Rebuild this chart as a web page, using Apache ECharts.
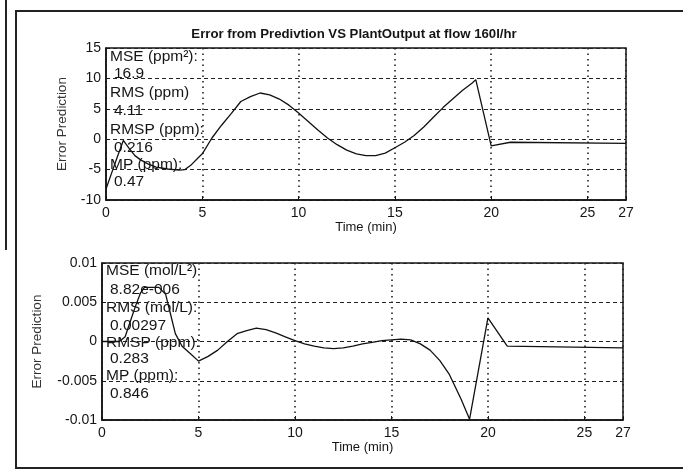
<!DOCTYPE html>
<html>
<head>
<meta charset="utf-8">
<script src="https://cdn.jsdelivr.net/npm/echarts@6/dist/echarts.min.js"></script>
<style>
html,body{margin:0;padding:0;background:#fff;}
#chart{width:683px;height:476px;}
</style>
</head>
<body>
<div id="chart"></div>
<script>
// ---- data ----
var titleText = 'Error from Predivtion VS PlantOutput at flow 160l/hr';
var xTicks = [0, 5, 10, 15, 20, 25, 27];
var topYTicks = [-10, -5, 0, 5, 10, 15];
var bottomYTicks = [-0.01, -0.005, 0, 0.005, 0.01];

var topTime = [0, 0.3, 0.6, 0.9, 1.2, 1.5, 1.8, 2.2, 2.6, 3.2, 3.8, 4.1, 4.4, 4.8, 5.0, 5.5, 6.0, 6.5, 7.0, 7.5, 8.0, 8.5, 9.0, 9.5, 10, 10.5, 11, 11.5, 12, 12.5, 13, 13.5, 14, 14.5, 15, 15.5, 16, 16.5, 17, 17.5, 18, 18.5, 19, 19.2, 20, 21, 27];
var topError = [-8.2, -5.5, -2.8, -0.2, -1.5, -2.7, -3.4, -4.1, -4.6, -4.9, -5.1, -5.0, -4.3, -3.0, -2.4, 0.2, 2.3, 4.2, 6.2, 7.0, 7.6, 7.3, 6.6, 5.6, 4.3, 2.9, 1.5, 0.2, -0.9, -1.8, -2.4, -2.7, -2.7, -2.3, -1.4, -0.5, 0.6, 2.0, 3.6, 5.2, 6.6, 8.0, 9.2, 9.8, -1.1, -0.5, -0.7];

var bottomTime = [0, 0.9, 1.2, 1.5, 1.75, 2.0, 2.2, 2.95, 3.3, 3.55, 3.8, 4.15, 4.6, 5.0, 5.5, 6.0, 6.5, 7.0, 7.5, 8.0, 8.5, 9.0, 9.5, 10, 10.5, 11, 11.5, 12, 12.5, 13, 13.5, 14, 14.5, 15, 15.5, 16, 16.5, 17, 17.5, 18, 18.6, 19.05, 20.0, 21, 27];
var bottomError = [0, 0, 0.0006, 0.0028, 0.0046, 0.0062, 0.0069, 0.0069, 0.006, 0.0035, 0.001, -0.0006, -0.0016, -0.0025, -0.0019, -0.0011, 0.0000, 0.0010, 0.0014, 0.0017, 0.0015, 0.0011, 0.0006, 0.0001, -0.0003, -0.0006, -0.0008, -0.0009, -0.0008, -0.0006, -0.0003, -0.0001, 0.0001, 0.0002, 0.0003, 0.0002, -0.0003, -0.0011, -0.0024, -0.0042, -0.0073, -0.0099, 0.003, -0.0006, -0.0008];

var topNotes = ['MSE (ppm\u00b2):', '16.9', 'RMS (ppm)', '4.11', 'RMSP (ppm):', '0.216', 'MP (ppm):', '0.47'];
var bottomNotes = ['MSE (mol/L\u00b2)', '8.82e-006', 'RMS (mol/L):', '0.00297', 'RMSP (ppm):', '0.283', 'MP (ppm):', '0.846'];

// ---- build ----
function pairs(xs, ys) { return xs.map(function (x, i) { return [x, ys[i]]; }); }

var FONT = '"Liberation Sans", Arial, sans-serif';
var INK = '#151515';

function xAxisCfg(gridIndex) {
  return {
    type: 'value', gridIndex: gridIndex,
    min: xTicks[0], max: xTicks[xTicks.length - 1], interval: 5,
    name: 'Time (min)', nameLocation: 'middle', nameGap: 21,
    nameTextStyle: { fontFamily: FONT, fontSize: 13, color: INK },
    axisLine: { onZero: false, lineStyle: { color: INK, width: 1.5 } },
    axisTick: { inside: true, length: 4, lineStyle: { color: INK } },
    axisLabel: { fontFamily: FONT, fontSize: 14, color: INK, margin: 6 },
    splitLine: { show: true, lineStyle: { color: '#222', type: [1.5, 4], width: 1.6 } }
  };
}
function yAxisCfg(gridIndex, ticks, gap) {
  return {
    type: 'value', gridIndex: gridIndex,
    min: ticks[0], max: ticks[ticks.length - 1], interval: ticks[1] - ticks[0],
    name: 'Error Prediction', nameLocation: 'middle', nameGap: gap, nameRotate: 90,
    nameTextStyle: { fontFamily: FONT, fontSize: 13.5, color: '#333' },
    axisLine: { onZero: false, lineStyle: { color: INK, width: 1.5 } },
    axisTick: { inside: true, length: 4, lineStyle: { color: INK } },
    axisLabel: { fontFamily: FONT, fontSize: 14, color: INK, margin: 5 },
    splitLine: { show: true, lineStyle: { color: '#222', type: [4, 3], width: 1.2 } }
  };
}

var noteYTop = [57, 74, 93, 111, 130, 148, 165, 182];
var noteYBottom = [271, 290, 308, 326, 343, 359, 376, 394];
var graphics = [
  { type: 'rect', shape: { x: 16, y: 11, width: 700, height: 457 }, style: { fill: 'none', stroke: '#222', lineWidth: 2 }, z: 1 },
  { type: 'line', shape: { x1: 6, y1: 0, x2: 6, y2: 250 }, style: { stroke: '#222', lineWidth: 2 }, z: 1 },
  { type: 'text', x: 354, y: 34, style: { text: titleText, fontFamily: FONT, fontWeight: 'bold', fontSize: 13.2, fill: INK, textAlign: 'center', textVerticalAlign: 'middle' }, z: 10 }
];
topNotes.forEach(function (t, i) {
  graphics.push({ type: 'text', x: (i % 2 === 0) ? 110 : 114, y: noteYTop[i], style: { text: t, fontFamily: FONT, fontSize: 15.5, fill: INK, textVerticalAlign: 'middle' }, z: 10 });
});
bottomNotes.forEach(function (t, i) {
  graphics.push({ type: 'text', x: (i % 2 === 0) ? 106 : 110, y: noteYBottom[i], style: { text: t, fontFamily: FONT, fontSize: 15.5, fill: INK, textVerticalAlign: 'middle' }, z: 10 });
});

var option = {
  backgroundColor: '#ffffff',
  animation: false,
  grid: [
    { left: 106, top: 48, width: 520, height: 152, show: true, borderColor: INK, borderWidth: 1.5, backgroundColor: 'transparent' },
    { left: 102, top: 263, width: 521, height: 157, show: true, borderColor: INK, borderWidth: 1.5, backgroundColor: 'transparent' }
  ],
  xAxis: [xAxisCfg(0), xAxisCfg(1)],
  yAxis: [yAxisCfg(0, topYTicks, 36.5), yAxisCfg(1, bottomYTicks, 57.5)],
  series: [
    { type: 'line', xAxisIndex: 0, yAxisIndex: 0, data: pairs(topTime, topError), showSymbol: false, lineStyle: { color: '#111', width: 1.3 } },
    { type: 'line', xAxisIndex: 1, yAxisIndex: 1, data: pairs(bottomTime, bottomError), showSymbol: false, lineStyle: { color: '#111', width: 1.3 } }
  ],
  graphic: graphics
};

var chart = echarts.init(document.getElementById('chart'));
chart.setOption(option);
</script>
</body>
</html>
